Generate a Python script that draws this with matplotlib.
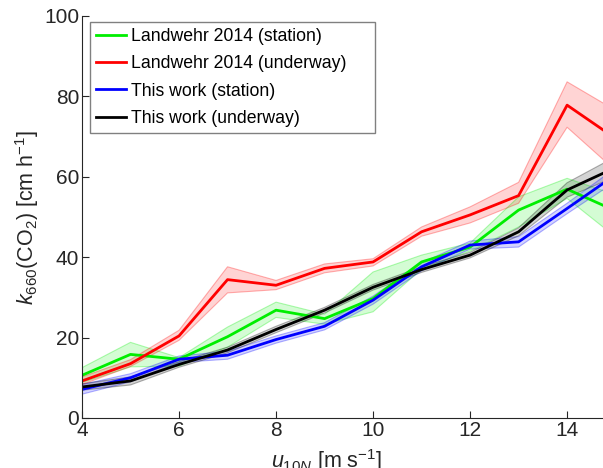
import numpy as np
import matplotlib
matplotlib.use('Agg')
import matplotlib.pyplot as plt

plt.rcParams['font.family'] = ['Liberation Sans', 'DejaVu Sans']
plt.rcParams['mathtext.fontset'] = 'custom'
plt.rcParams['mathtext.rm'] = 'Liberation Sans'
plt.rcParams['mathtext.it'] = 'Liberation Sans:italic'

# wind speed bins
ws = [4, 5, 6, 7, 8, 9, 10, 11, 12, 13, 14, 15]

# Landwehr 2014 (station)
lw_st = [10.6, 15.8, 14.6, 20.2, 26.8, 24.7, 29.7, 38.8, 42.5, 51.7, 56.9, 51.5]
lw_st_lo = [8.8, 12.7, 12.9, 17.6, 25.0, 23.3, 26.4, 37.0, 41.5, 47.5, 54.6, 45.0]
lw_st_hi = [12.5, 18.8, 15.0, 22.6, 28.8, 25.8, 36.3, 40.5, 43.5, 55.0, 59.6, 55.5]

# Landwehr 2014 (underway)
lw_uw = [9.2, 13.5, 20.4, 34.4, 33.0, 37.2, 38.8, 46.3, 50.5, 55.3, 77.8, 69.5]
lw_uw_lo = [8.3, 12.8, 19.3, 31.1, 31.9, 36.1, 37.8, 45.2, 48.5, 53.4, 72.3, 61.5]
lw_uw_hi = [10.2, 14.5, 21.8, 37.6, 34.2, 38.3, 39.6, 47.5, 52.5, 58.6, 83.6, 76.5]

# this work (station)
tw_st = [7.1, 10.0, 14.6, 15.6, 19.5, 22.8, 29.3, 37.6, 43.0, 43.8, 52.1, 60.5]
tw_st_lo = [5.9, 9.0, 13.8, 14.6, 18.6, 21.9, 28.3, 36.6, 42.0, 42.5, 50.8, 58.8]
tw_st_hi = [8.3, 11.0, 15.4, 16.6, 20.4, 23.7, 30.3, 38.6, 44.0, 45.1, 53.4, 62.2]

# this work (underway)
tw_uw = [7.7, 9.2, 13.3, 16.9, 22.0, 26.8, 32.5, 36.9, 40.5, 46.3, 56.7, 62.3]
tw_uw_lo = [6.9, 8.2, 12.6, 16.2, 21.2, 26.1, 31.8, 36.2, 39.8, 45.3, 54.9, 60.0]
tw_uw_hi = [8.5, 10.2, 14.0, 17.6, 22.8, 27.5, 33.2, 37.6, 41.2, 47.3, 58.5, 65.0]

series = [
    ('Landwehr 2014 (station)', lw_st, lw_st_lo, lw_st_hi, '#00ee00'),
    ('Landwehr 2014 (underway)', lw_uw, lw_uw_lo, lw_uw_hi, '#ff0000'),
    ('This work (station)', tw_st, tw_st_lo, tw_st_hi, '#0000ff'),
    ('This work (underway)', tw_uw, tw_uw_lo, tw_uw_hi, '#000000'),
]

fig = plt.figure(figsize=(6.03, 4.68), dpi=100)
ax = fig.add_axes([0.136, 0.107, 0.864, 0.859])

# shaded uncertainty bands with faint outlines, then the mean lines on top
for name, mid, lo, hi, c in series:
    ax.fill_between(ws, lo, hi, facecolor=c, alpha=0.17, linewidth=0)
    ax.plot(ws, lo, color=c, alpha=0.3, lw=0.8)
    ax.plot(ws, hi, color=c, alpha=0.3, lw=0.8)
for name, mid, lo, hi, c in series:
    ax.plot(ws, mid, color=c, lw=2.0, label=name)

ax.set_xlim(4, 14.74)
ax.set_ylim(0, 100)
ax.set_xticks([4, 6, 8, 10, 12, 14])
ax.set_yticks([0, 20, 40, 60, 80, 100])

axcol = '#262626'
for s in ['top', 'right']:
    ax.spines[s].set_visible(False)
for s in ['left', 'bottom']:
    ax.spines[s].set_color(axcol)
    ax.spines[s].set_linewidth(0.8)
ax.tick_params(direction='in', length=5, width=0.8, colors=axcol,
               labelsize=15, pad=2)

ax.set_xlabel(r'$u_{10N}$ [m s$^{-1}$]', fontsize=15.5, color=axcol)
ax.xaxis.set_label_coords(0.47, -0.073)
ax.set_ylabel(r'$k_{660}$(CO$_2$) [cm h$^{-1}$]', fontsize=15.5, color=axcol)
ax.yaxis.set_label_coords(-0.078, 0.5)

# legend box stretched wider than its text
leg = ax.legend(loc='upper left', bbox_to_anchor=(0.0154, 0, 0.547, 0.985),
                mode='expand', fontsize=12.7, fancybox=False, framealpha=1,
                edgecolor='#808080', handlelength=1.7, handletextpad=0.3,
                labelspacing=0.58, borderaxespad=0, borderpad=0.35)
leg.get_frame().set_linewidth(1.0)

fig.savefig('out.png', dpi=100)
